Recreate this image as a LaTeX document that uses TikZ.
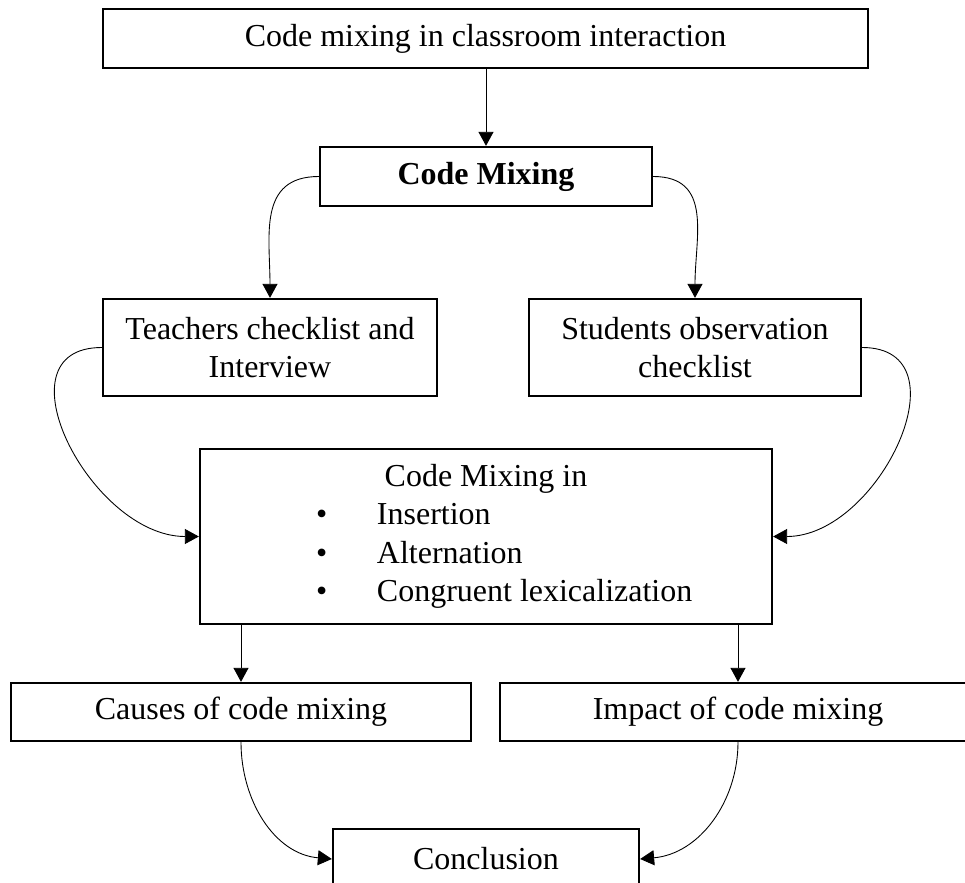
\documentclass[tikz,border=0pt]{standalone}
\usepackage{fontspec}
\setmainfont{Liberation Serif}
\usetikzlibrary{arrows.meta,positioning}
\tikzstyle{box}  = [rectangle, draw=black, line width=1.3pt, align=center, inner sep=0pt, font=\fontsize{18.2}{21.8}\selectfont]
\tikzstyle{flow} = [line width=0.5pt, -{Triangle[length=0.28cm,width=0.3cm]}]
\newcommand{\itemline}[1]{\makebox[11.44cm][l]{\hspace*{2.32cm}\makebox[1.22cm][l]{\textbullet}#1}}

\begin{document}
\begin{tikzpicture}
	\useasboundingbox (0,0) rectangle (19.3,-17.66);
	\node[box, minimum width=15.3cm, minimum height=1.18cm] (topic) at (9.71,-0.77) {Code mixing in classroom interaction};
	\node[box, minimum width=6.64cm, minimum height=1.18cm] (mix) at (9.72,-3.53) {\textbf{Code Mixing}};
	\node[box, minimum width=6.68cm, minimum height=1.94cm] (teach) at (5.4,-6.95) {Teachers checklist and\\Interview};
	\node[box, minimum width=6.64cm, minimum height=1.94cm] (stud) at (13.9,-6.95) {Students observation\\checklist};
	\node[box, minimum width=11.44cm, minimum height=3.5cm] (types) at (9.72,-10.73) {Code Mixing in\\
			\itemline{Insertion}\\
			\itemline{Alternation}\\
			\itemline{Congruent lexicalization}};
	\node[box, minimum width=9.2cm, minimum height=1.16cm] (cause) at (4.82,-14.24) {Causes of code mixing};
	\node[box, minimum width=9.52cm, minimum height=1.16cm] (impact) at (14.76,-14.24) {Impact of code mixing};
	\node[box, minimum width=6.12cm, minimum height=1.2cm] (concl) at (9.72,-17.18) {Conclusion};

	\draw[flow] (topic.south -| mix) -- (mix);
	\draw[flow] (mix.west) to[out=180,in=90,looseness=1.2] (teach.north);
	\draw[flow] (mix.east) to[out=0,in=90,looseness=1.2] (stud.north);
	\draw[flow] (teach.west) to[out=180,in=180,looseness=1.3] (types.west);
	\draw[flow] (stud.east) to[out=0,in=0,looseness=1.3] (types.east);
	\draw[flow] (types.south -| cause) -- (cause);
	\draw[flow] (types.south -| impact) -- (impact);
	\draw[flow] (cause.south) to[out=-90,in=175] (concl.west);
	\draw[flow] (impact.south) to[out=-90,in=5] (concl.east);
\end{tikzpicture}
\end{document}
